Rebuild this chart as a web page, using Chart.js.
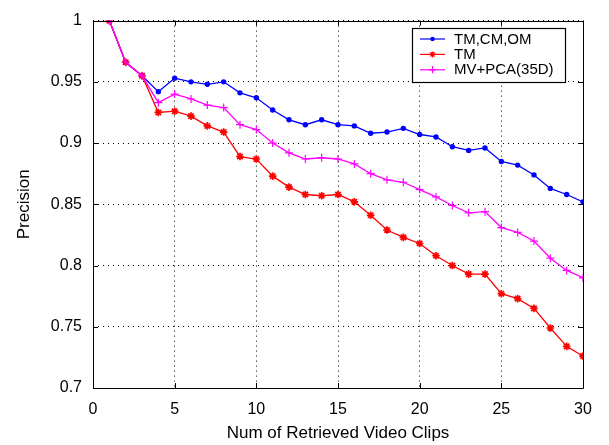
<!DOCTYPE html>
<html>
<head>
<meta charset="utf-8">
<script src="https://cdn.jsdelivr.net/npm/chart.js@4/dist/chart.umd.min.js"></script>
<style>
  html, body { margin: 0; padding: 0; background: #ffffff; }
  #wrap { width: 609px; height: 445px; }
</style>
</head>
<body>
<div id="wrap"><canvas id="c" width="609" height="445"></canvas></div>
<script>
// Number of retrieved clips (x) and precision for each method
const clips = [1, 2, 3, 4, 5, 6, 7, 8, 9, 10, 11, 12, 13, 14, 15, 16, 17, 18, 19, 20, 21, 22, 23, 24, 25, 26, 27, 28, 29, 30];
const precisionTmCmOm = [1.000, 0.966, 0.955, 0.942, 0.953, 0.950, 0.948, 0.950, 0.941, 0.937, 0.927, 0.919, 0.915, 0.919, 0.915, 0.914, 0.908, 0.909, 0.912, 0.907, 0.905, 0.897, 0.894, 0.896, 0.885, 0.882, 0.874, 0.863, 0.858, 0.852];
const precisionTm = [1.000, 0.966, 0.955, 0.925, 0.926, 0.922, 0.914, 0.909, 0.889, 0.887, 0.873, 0.864, 0.858, 0.857, 0.858, 0.852, 0.841, 0.829, 0.823, 0.818, 0.808, 0.800, 0.793, 0.793, 0.777, 0.773, 0.765, 0.749, 0.734, 0.726];
const precisionMvPca = [1.000, 0.966, 0.955, 0.933, 0.940, 0.936, 0.931, 0.929, 0.915, 0.911, 0.900, 0.892, 0.887, 0.888, 0.887, 0.883, 0.875, 0.870, 0.868, 0.862, 0.856, 0.849, 0.843, 0.844, 0.831, 0.827, 0.820, 0.806, 0.796, 0.790];

const seriesNames = ['TM,CM,OM', 'TM', 'MV+PCA(35D)'];

const xTicks = [0, 5, 10, 15, 20, 25, 30];
const xTickLabels = ['0', '5', '10', '15', '20', '25', '30'];
const yTicks = [0.7, 0.75, 0.8, 0.85, 0.9, 0.95, 1];
const yTickLabels = ['0.7', '0.75', '0.8', '0.85', '0.9', '0.95', '1'];

const FONT = '"Liberation Sans", Arial, Helvetica, sans-serif';

const toPoints = (ys) => clips.map((x, i) => ({ x: x, y: ys[i] }));

// Full box around the plot with inward tick marks on all four sides
const boxPlugin = {
  id: 'box',
  afterDraw(chart) {
    const { ctx, chartArea: a, scales } = chart;
    const t = 5;
    ctx.save();
    ctx.strokeStyle = '#000';
    ctx.lineWidth = 1;
    ctx.beginPath();
    ctx.rect(Math.round(a.left) + 0.5, Math.round(a.top) + 0.5,
             Math.round(a.right - a.left), Math.round(a.bottom - a.top));
    ctx.stroke();
    ctx.beginPath();
    xTicks.forEach(v => {
      const px = Math.round(scales.x.getPixelForValue(v)) + 0.5;
      ctx.moveTo(px, a.bottom); ctx.lineTo(px, a.bottom - t);
      ctx.moveTo(px, a.top); ctx.lineTo(px, a.top + t);
    });
    yTicks.forEach(v => {
      const py = Math.round(scales.y.getPixelForValue(v)) + 0.5;
      ctx.moveTo(a.left, py); ctx.lineTo(a.left + t, py);
      ctx.moveTo(a.right, py); ctx.lineTo(a.right - t, py);
    });
    ctx.stroke();
    ctx.restore();
  }
};

// Legend box in the upper right corner of the plot
const legendPlugin = {
  id: 'boxLegend',
  afterDraw(chart) {
    const { ctx, chartArea: a } = chart;
    ctx.save();
    ctx.font = '15px ' + FONT;
    const left = Math.round(a.left + 319);
    const top = Math.round(a.top + 7);
    const w = 153;
    const h = 54;
    ctx.fillStyle = '#fff';
    ctx.fillRect(left, top, w, h);
    ctx.strokeStyle = '#000';
    ctx.lineWidth = 1.2;
    ctx.strokeRect(left + 0.5, top + 0.5, w, h);
    chart.data.datasets.forEach((d, i) => {
      const y = top + 11 + i * 15.4;
      ctx.strokeStyle = d.borderColor;
      ctx.fillStyle = d.borderColor;
      ctx.lineWidth = 1.2;
      ctx.beginPath();
      ctx.moveTo(left + 8, y);
      ctx.lineTo(left + 33, y);
      ctx.stroke();
      Chart.helpers.drawPoint(ctx, {
        pointStyle: d.pointStyle,
        radius: d.legendRadius,
        borderWidth: d.pointBorderWidth || 0.01,
        rotation: 0
      }, left + 20.5, y);
      ctx.fillStyle = '#000';
      ctx.textBaseline = 'middle';
      ctx.textAlign = 'left';
      ctx.fillText(d.label, left + 42, y + 0.5);
    });
    ctx.restore();
  }
};

new Chart(document.getElementById('c'), {
  type: 'line',
  data: {
    datasets: [
      {
        label: seriesNames[0],
        data: toPoints(precisionTmCmOm),
        borderColor: '#0000ff',
        backgroundColor: '#0000ff',
        borderWidth: 1.3,
        pointStyle: 'circle',
        pointRadius: 2.7,
        pointBorderWidth: 0,
        legendRadius: 1.6,
        order: 2
      },
      {
        label: seriesNames[1],
        data: toPoints(precisionTm),
        borderColor: '#ff0000',
        backgroundColor: '#ff0000',
        borderWidth: 1.3,
        pointStyle: 'star',
        pointRadius: 3.8,
        pointBorderWidth: 1.7,
        legendRadius: 3,
        order: 1
      },
      {
        label: seriesNames[2],
        data: toPoints(precisionMvPca),
        borderColor: '#ff00ff',
        backgroundColor: '#ff00ff',
        borderWidth: 1.3,
        pointStyle: 'cross',
        pointRadius: 4,
        pointBorderWidth: 1.2,
        legendRadius: 3.5,
        order: 0
      }
    ]
  },
  options: {
    responsive: false,
    devicePixelRatio: 1,
    animation: false,
    events: [],
    layout: { padding: { left: 0, top: 16, right: 26, bottom: 0 } },
    plugins: {
      legend: { display: false },
      tooltip: { enabled: false }
    },
    elements: { line: { tension: 0 } },
    scales: {
      x: {
        type: 'linear',
        min: 0,
        max: 30,
        afterBuildTicks: (s) => { s.ticks = xTicks.map(v => ({ value: v })); },
        afterFit: (s) => { s.height = 57; },
        ticks: {
          callback: (v, i) => xTickLabels[i],
          color: '#000',
          padding: 12,
          maxRotation: 0,
          font: { family: FONT, size: 16 }
        },
        grid: { color: '#000', lineWidth: 1, drawTicks: false },
        border: { display: false, dash: [1, 4] },
        title: {
          display: true,
          text: 'Num of Retrieved Video Clips',
          color: '#000',
          font: { family: FONT, size: 17 },
          padding: { top: 0, bottom: 1 }
        }
      },
      y: {
        type: 'linear',
        min: 0.7,
        max: 1,
        afterBuildTicks: (s) => { s.ticks = yTicks.map(v => ({ value: v })); },
        afterFit: (s) => { s.width = 93; },
        ticks: {
          callback: (v, i) => yTickLabels[i],
          color: '#000',
          padding: 11,
          font: { family: FONT, size: 16 }
        },
        grid: { color: '#000', lineWidth: 1, drawTicks: false },
        border: { display: false, dash: [1, 4] },
        title: {
          display: true,
          text: 'Precision',
          color: '#000',
          font: { family: FONT, size: 17 },
          padding: { top: 14, bottom: 0 }
        }
      }
    }
  },
  plugins: [boxPlugin, legendPlugin]
});
</script>
</body>
</html>
